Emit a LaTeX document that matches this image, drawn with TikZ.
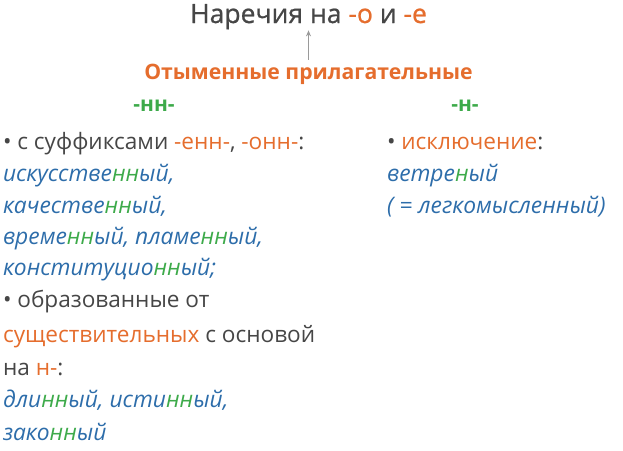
\documentclass[tikz,border=0pt]{standalone}
\usepackage{fontspec}
\setmainfont{Open Sans}
\newfontfamily\titlefont[FakeBold=0.8]{Open Sans}
\usetikzlibrary{arrows.meta}
\definecolor{txt}{HTML}{464646}
\definecolor{org}{HTML}{E56D2D}
\definecolor{grn}{HTML}{3DAA4A}
\definecolor{blu}{HTML}{2D6DAA}
\definecolor{arr}{HTML}{9A9A9A}
\newcommand{\gn}[1]{\textcolor{grn}{#1}}
\newcommand{\og}[1]{\textcolor{org}{#1}}
\begin{document}
\begin{tikzpicture}[x=1pt,y=-1pt,
  every node/.style={inner sep=0pt,outer sep=0pt},
  body/.style={anchor=base west,font=\fontsize{22.6}{26}\selectfont,text=txt},
  ex/.style={anchor=base west,font=\fontsize{22.8}{26}\selectfont\itshape,text=blu},
  head/.style={anchor=base,font=\fontsize{21}{25}\selectfont\bfseries,text=grn},
  conn/.style={draw=arr,line width=1.2pt,-{Stealth[length=6pt,width=5pt]}}]
\useasboundingbox (0,0) rectangle (623,450);
\node[anchor=base,font=\titlefont\fontsize{26.5}{30}\selectfont,text=txt] (title) at (308.5,23) {Наречия на \og{-о} и \og{-е}};
\node[anchor=base,font=\fontsize{21.2}{26}\selectfont\bfseries,text=org] (sub) at (308.5,79) {Отыменные прилагательные};
\draw[conn] ([yshift=4pt]sub.north) -- ([yshift=-1pt]title.south);
\node[head] (nn) at (154,111) {-нн-};
\node[head] (n) at (465,111) {-н-};
% left column
\node[body] (l1) at (3,149) {• с суффиксами \og{-енн-}, \og{-онн-}:};
\node[ex] (l2) at (3,181) {искусстве\gn{нн}ый,};
\node[ex] (l3) at (3,213) {качестве\gn{нн}ый,};
\node[ex] (l4) at (3,244) {време\gn{нн}ый, пламе\gn{нн}ый,};
\node[ex] (l5) at (3,275) {конституцио\gn{нн}ый;};
\node[body] (l6) at (3,307) {• образованные от};
\node[body] (l7) at (3,342) {\og{существительных} с основой};
\node[body] (l8) at (3,375) {на \og{н-}:};
\node[ex] (l9) at (3,407) {дли\gn{нн}ый, исти\gn{нн}ый,};
\node[ex] (l10) at (3,440) {зако\gn{нн}ый};
% right column
\node[body] (r1) at (387,149) {• \og{исключение}:};
\node[ex] (r2) at (387,181) {ветре\gn{н}ый};
\node[ex] (r3) at (387,213) {( = легкомысленный)};
\end{tikzpicture}
\end{document}
